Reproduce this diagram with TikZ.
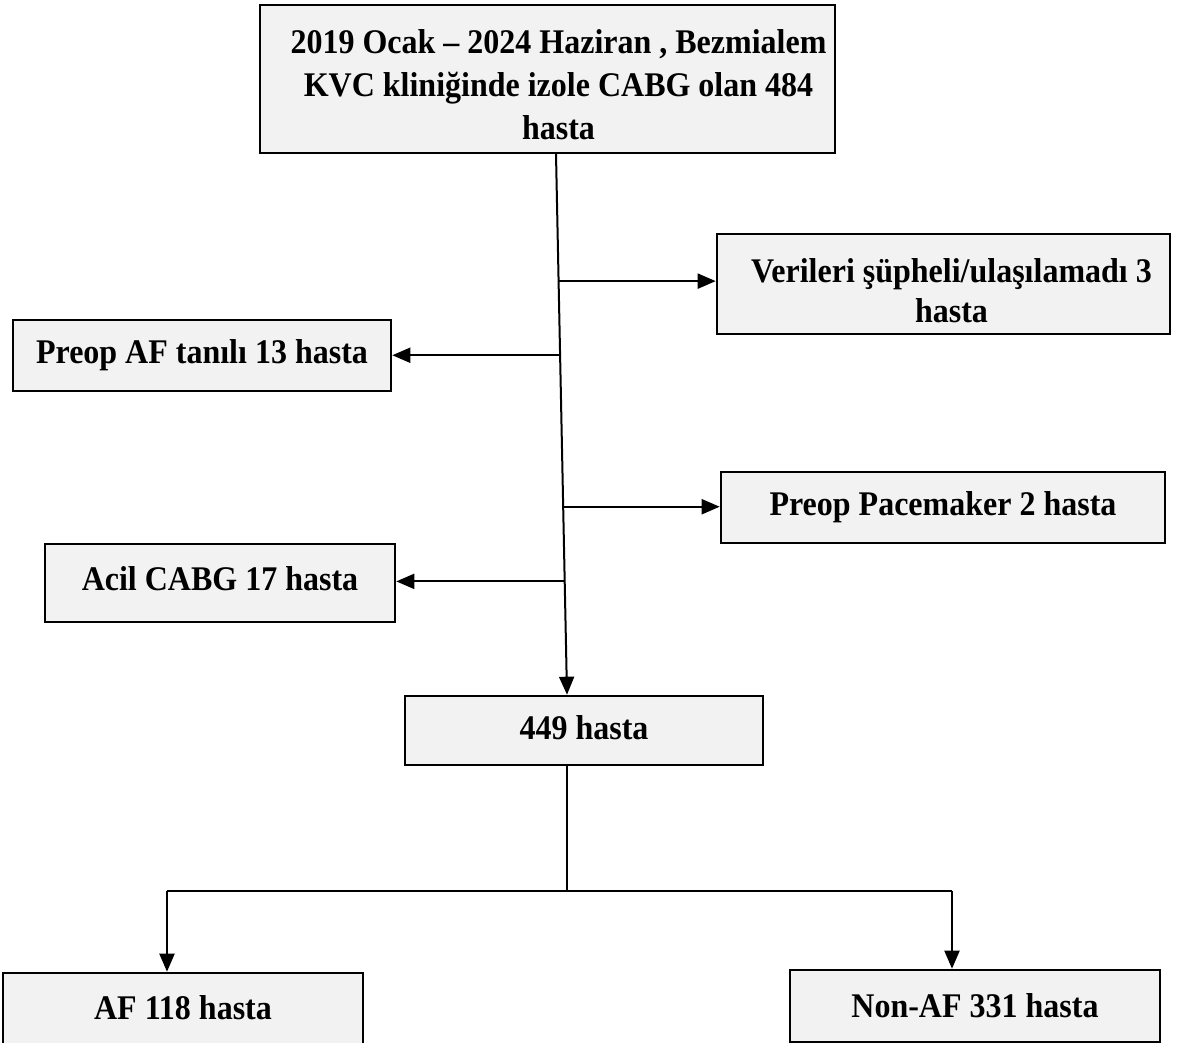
\documentclass[tikz,border=0pt]{standalone}
\usepackage{fontspec}
\setmainfont{Liberation Serif}
\usetikzlibrary{arrows.meta,calc}
\definecolor{boxfill}{RGB}{242,242,242}
\newcommand{\tallt}[1]{\scalebox{1}[1.08]{#1}}
% vertical struts: \lowertext{h} adds height (moves text down by half), \raisetext{d} adds depth (moves text up by half)
\newcommand{\lowertext}[1]{\rule{0pt}{#1}}
\newcommand{\raisetext}[1]{\rule[-#1]{0pt}{#1}}
\tikzset{
  box/.style={draw=black, line width=2.6pt, fill=boxfill, inner sep=0pt, align=center,
    font=\bfseries\fontsize{32}{40}\selectfont},
  conn/.style={line width=2pt},
  arr/.style={conn, -{Triangle[length=18pt,width=15pt]}}
}
\begin{document}
\begin{tikzpicture}[x=1pt,y=-1pt]
\useasboundingbox (0,0) rectangle (1181,1043);
\node[box, minimum width=575pt, minimum height=148pt, font=\bfseries\fontsize{32}{43}\selectfont] (top) at (547.5,79)
  {\lowertext{36pt}\hspace*{22pt}\tallt{2019 Ocak – 2024 Haziran , Bezmialem}\\\hspace*{22pt}\tallt{KVC kliniğinde izole CABG olan 484}\\\hspace*{22pt}\tallt{hasta}};
\node[box, minimum width=453pt, minimum height=100pt] (ver) at (943.5,284)
  {\lowertext{38pt}\hspace*{16pt}\tallt{Verileri şüpheli/ulaşılamadı 3}\\\hspace*{16pt}\tallt{hasta}};
\node[box, minimum width=378pt, minimum height=71pt] (paf) at (202,355.5) {\tallt{Preop AF tanılı 13 hasta}};
\node[box, minimum width=444pt, minimum height=71pt] (pace) at (943,507.5) {\tallt{Preop Pacemaker 2 hasta}};
\node[box, minimum width=350pt, minimum height=78pt] (acil) at (220,583) {\raisetext{8pt}\tallt{Acil CABG 17 hasta}};
\node[box, minimum width=358pt, minimum height=69pt] (n449) at (584,730.5) {\raisetext{5pt}\tallt{449 hasta}};
\node[box, minimum width=360pt, minimum height=76pt] (af) at (183,1011) {\raisetext{7pt}\tallt{AF 118 hasta}};
\node[box, minimum width=370pt, minimum height=72pt] (nonaf) at (975,1006) {\tallt{Non-AF 331 hasta}};
% trunk
\coordinate (t0) at (556,154);
\coordinate (t1) at (567,695);
\draw[arr] (t0) -- (t1 |- n449.north);
\coordinate (b1) at ($(t0)!0.235!(t1)$);
\coordinate (b2) at ($(t0)!0.372!(t1)$);
\coordinate (b3) at ($(t0)!0.652!(t1)$);
\coordinate (b4) at ($(t0)!0.79!(t1)$);
\draw[arr] (b1) -- (b1 -| ver.west);
\draw[arr] (b2) -- (b2 -| paf.east);
\draw[arr] (b3) -- (b3 -| pace.west);
\draw[arr] (b4) -- (b4 -| acil.east);
% bottom split
\coordinate (s0) at (567,765);
\coordinate (s1) at (567,891);
\coordinate (sl) at (167,891);
\coordinate (sr) at (952,891);
\draw[conn] (s0) -- (s1);
\draw[conn] (sl) -- (sr);
\draw[arr] (sl) -- (sl |- af.north);
\draw[arr] (sr) -- (sr |- nonaf.north);
\end{tikzpicture}
\end{document}
